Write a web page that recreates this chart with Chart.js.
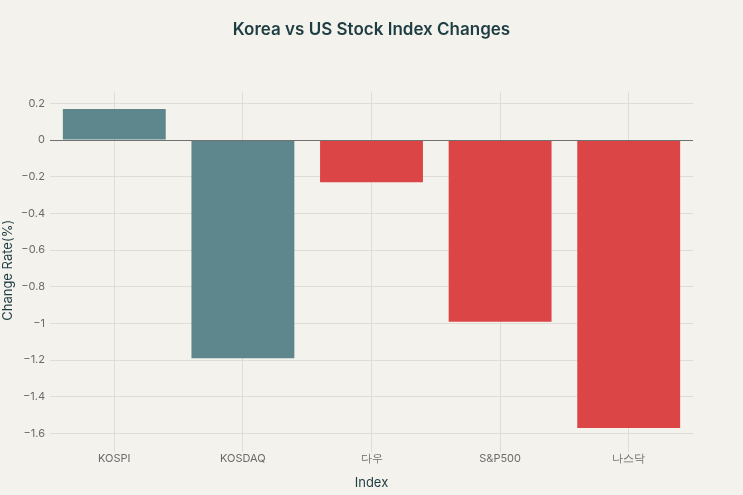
<!DOCTYPE html>
<html>
<head>
<meta charset="utf-8">
<script src="https://cdn.jsdelivr.net/npm/chart.js@4"></script>
<style>
  html, body { margin: 0; padding: 0; background: #F3F2EC; }
  #wrap { width: 743px; height: 495px; }
</style>
</head>
<body>
<div id="wrap"><canvas id="barChart"></canvas></div>
<script>
// data
const indexNames = ["KOSPI", "KOSDAQ", "다우", "S&P500", "나스닥"];
const changeRates = [0.17, -1.19, -0.23, -0.99, -1.57];
const barColors = ["#5D878C", "#5D878C", "#DB4545", "#DB4545", "#DB4545"];

const gridColor = "#DEDDD8";
const tickColor = "#6B6B6B";

// zero line sits on top of the bars
const zeroLine = {
  id: "zeroLine",
  afterDatasetsDraw(chart) {
    const y = chart.scales.y.getPixelForValue(0);
    const { left, right } = chart.chartArea;
    const c = chart.ctx;
    c.save();
    c.strokeStyle = "#707070";
    c.lineWidth = 1;
    c.beginPath();
    c.moveTo(left, Math.round(y) + 0.5);
    c.lineTo(right, Math.round(y) + 0.5);
    c.stroke();
    c.restore();
  },
};

const ctx = document.getElementById("barChart").getContext("2d");
new Chart(ctx, {
  type: "bar",
  data: {
    labels: indexNames,
    datasets: [
      {
        label: "Change Rate(%)",
        data: changeRates,
        backgroundColor: barColors,
        borderWidth: 0,
        barPercentage: 0.8,
        categoryPercentage: 1.0,
      },
    ],
  },
  plugins: [zeroLine],
  options: {
    responsive: true,
    maintainAspectRatio: false,
    animation: false,
    layout: { padding: { left: 0, right: 0, top: 0, bottom: 4 } },
    plugins: {
      legend: { display: false },
      tooltip: { enabled: false },
      title: {
        display: true,
        text: "Korea vs US Stock Index Changes",
        color: "#1E3D42",
        font: { family: "Inter", size: 17, weight: "600" },
        padding: { top: 20, bottom: 52 },
      },
    },
    scales: {
      x: {
        grid: { color: gridColor, offset: false, tickLength: 4, drawTicks: true, tickColor: gridColor },
        border: { display: false },
        ticks: { color: tickColor, font: { family: "Inter", size: 11 }, padding: 0 },
        title: {
          display: true,
          text: "Index",
          color: "#1E3D42",
          font: { family: "Inter", size: 13 },
          padding: { top: 10, bottom: 0 },
        },
      },
      y: {
        min: -1.68,
        max: 0.26,
        afterBuildTicks: (axis) => {
          const t = [];
          for (let v = -1.6; v <= 0.21; v += 0.2) t.push({ value: Math.round(v * 10) / 10 });
          axis.ticks = t;
        },
        afterFit: (axis) => { axis.width = 50; },
        grid: {
          color: (c) => (c.tick && c.tick.value === 0 ? "rgba(0,0,0,0)" : gridColor),
          drawTicks: false,
        },
        border: { display: false },
        ticks: {
          color: tickColor,
          font: { family: "Inter", size: 11 },
          padding: 5,
          callback: (v) => String(Math.round(v * 10) / 10).replace("-", "\u2212"),
        },
        title: {
          display: true,
          text: "Change Rate(%)",
          color: "#1E3D42",
          font: { family: "Inter", size: 13 },
          padding: { top: 0, bottom: 0 },
        },
      },
      // empty right-hand axis just to reserve the right margin
      yRight: {
        position: "right",
        display: true,
        afterFit: (axis) => { axis.width = 50; },
        grid: { display: false },
        border: { display: false },
        ticks: { display: false },
      },
    },
  },
});
</script>
</body>
</html>
